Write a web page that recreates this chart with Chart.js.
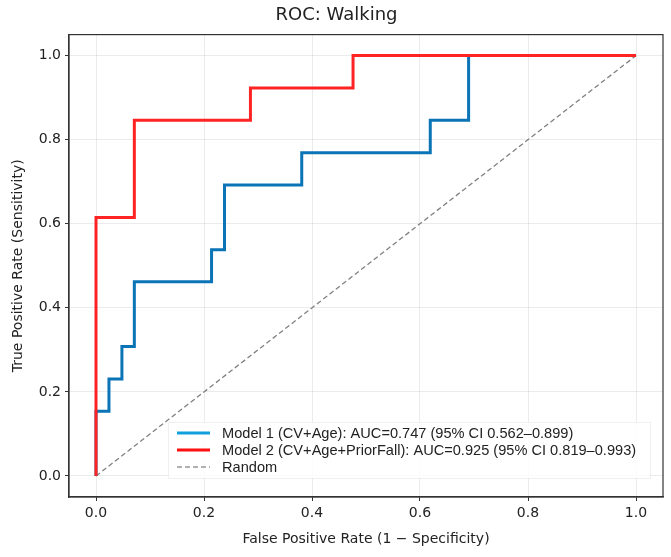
<!DOCTYPE html>
<html lang="en">
<head>
  <meta charset="UTF-8">
  <title>ROC: Walking</title>
  <script src="https://cdn.jsdelivr.net/npm/chart.js"></script>
  <style>
    body { margin: 0; background: #fff; }
    #wrap { width: 671px; height: 557px; }
  </style>
</head>
<body>
  <div id="wrap"><canvas id="chart" width="671" height="557"></canvas></div>

  <script>
    // ROC corner points
    const model1Fpr = [0, 0, 0.024, 0.024, 0.048, 0.048, 0.071, 0.071, 0.214, 0.214, 0.238, 0.238, 0.381, 0.381, 0.619, 0.619, 0.690, 0.690, 1.0];
    const model1Tpr = [0, 0.154, 0.154, 0.231, 0.231, 0.308, 0.308, 0.462, 0.462, 0.538, 0.538, 0.692, 0.692, 0.769, 0.769, 0.846, 0.846, 1.0, 1.0];
    const model2Fpr = [0, 0, 0.071, 0.071, 0.286, 0.286, 0.476, 0.476, 1.0];
    const model2Tpr = [0, 0.615, 0.615, 0.846, 0.846, 0.923, 0.923, 1.0, 1.0];
    const randomFpr = [0, 1];
    const randomTpr = [0, 1];
    const seriesLabels = [
      'Model 1 (CV+Age): AUC=0.747 (95% CI 0.562–0.899)',
      'Model 2 (CV+Age+PriorFall): AUC=0.925 (95% CI 0.819–0.993)',
      'Random'
    ];
    const tickValues = [0, 0.2, 0.4, 0.6, 0.8, 1.0];

    const toPoints = (xs, ys) => xs.map((x, i) => ({ x: x, y: ys[i] }));

    // frame + legend drawn inside the plot, like the original
    const framePlugin = {
      id: 'frame',
      afterDraw(chart) {
        const { ctx, chartArea: a } = chart;
        ctx.save();
        ctx.strokeStyle = '#333';
        ctx.lineWidth = 1.2;
        ctx.strokeRect(a.left, a.top, a.right - a.left, a.bottom - a.top);

        // legend box
        const bx = 168, by = 422, bw = 482, bh = 56;
        ctx.fillStyle = 'rgba(255,255,255,0.85)';
        ctx.fillRect(bx, by, bw, bh);
        ctx.strokeStyle = 'rgba(225,225,225,0.5)';
        ctx.lineWidth = 1;
        ctx.strokeRect(bx + 0.5, by + 0.5, bw, bh);

        ctx.font = '14.6px "Liberation Sans", Arial, sans-serif';
        ctx.textBaseline = 'middle';
        chart.data.datasets.forEach((ds, i) => {
          const y = 433 + i * 17;
          ctx.beginPath();
          ctx.strokeStyle = ds.legendColor || ds.borderColor;
          ctx.lineWidth = ds.borderDash ? 2.2 : 3;
          ctx.setLineDash(ds.borderDash ? [5, 3] : []);
          ctx.moveTo(177, y);
          ctx.lineTo(210, y);
          ctx.stroke();
          ctx.setLineDash([]);
          ctx.fillStyle = '#222';
          ctx.fillText(ds.label, 222, y + 1);
        });
        ctx.restore();
      }
    };

    const axisFont = { family: 'DejaVu Sans', size: 14 };

    new Chart(document.getElementById('chart'), {
      type: 'scatter',
      data: {
        datasets: [
          {
            label: seriesLabels[0],
            data: toPoints(model1Fpr, model1Tpr),
            showLine: true,
            borderColor: '#0a74b6',
            legendColor: '#12a0dc',
            borderWidth: 3,
            pointRadius: 0,
            tension: 0,
            order: 1
          },
          {
            label: seriesLabels[1],
            data: toPoints(model2Fpr, model2Tpr),
            showLine: true,
            borderColor: '#ff2424',
            legendColor: '#ff1010',
            borderWidth: 3,
            pointRadius: 0,
            tension: 0,
            order: 0
          },
          {
            label: seriesLabels[2],
            data: toPoints(randomFpr, randomTpr),
            showLine: true,
            borderColor: '#808080',
            legendColor: '#b0b0b0',
            borderWidth: 1.3,
            borderDash: [5, 3],
            pointRadius: 0,
            order: 2
          }
        ]
      },
      options: {
        responsive: false,
        animation: false,
        layout: { padding: { right: 8, left: 10, bottom: 9 } },
        plugins: {
          legend: { display: false },
          tooltip: { enabled: false },
          title: {
            display: true,
            text: 'ROC: Walking',
            color: '#222',
            font: { family: 'DejaVu Sans', size: 18, weight: 'normal' },
            padding: { top: 5, bottom: 8 }
          }
        },
        scales: {
          x: {
            type: 'linear',
            min: -0.05,
            max: 1.05,
            afterBuildTicks: s => { s.ticks = tickValues.map(v => ({ value: v })); },
            afterFit: s => { s.height = 51; },
            ticks: {
              color: '#222',
              font: axisFont,
              padding: 4,
              maxRotation: 0,
              callback: v => Number(v).toFixed(1)
            },
            grid: { color: 'rgba(0,0,0,0.08)', tickColor: '#333', tickLength: 4 },
            border: { color: '#333', width: 1.2 },
            title: {
              display: true,
              text: 'False Positive Rate (1 − Specificity)',
              color: '#222',
              font: axisFont,
              padding: { top: 4, bottom: 0 }
            }
          },
          y: {
            type: 'linear',
            min: -0.05,
            max: 1.05,
            afterBuildTicks: s => { s.ticks = tickValues.map(v => ({ value: v })); },
            afterFit: s => { s.width = 59; },
            ticks: {
              color: '#222',
              font: axisFont,
              padding: 4,
              callback: v => Number(v).toFixed(1)
            },
            grid: { color: 'rgba(0,0,0,0.08)', tickColor: '#333', tickLength: 4 },
            border: { color: '#333', width: 1.2 },
            title: {
              display: true,
              text: 'True Positive Rate (Sensitivity)',
              color: '#222',
              font: axisFont,
              padding: { top: 0, bottom: 6 }
            }
          }
        }
      },
      plugins: [framePlugin]
    });
  </script>
</body>
</html>
